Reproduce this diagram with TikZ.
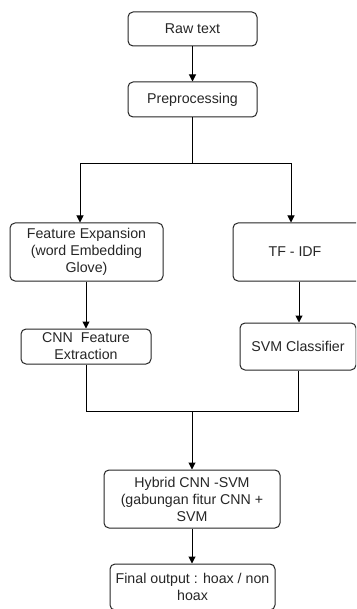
\documentclass[tikz,border=0pt]{standalone}
\usepackage{fontspec}
\setmainfont{Liberation Sans}
\usetikzlibrary{arrows.meta}
\begin{document}
\begin{tikzpicture}[x=1pt,y=-1pt,
  box/.style={draw=black!85, line width=1pt, rounded corners=5pt, align=center,
    inner sep=0pt, font=\fontsize{14.2}{17}\selectfont, text=black!85},
  conn/.style={draw=black, line width=1pt},
  arr/.style={conn, -{Triangle[width=7pt,length=7pt]}}]
\clip (0,0) rectangle (356,609);
\fill[white] (0,0) rectangle (356,609);
\node[box, minimum width=129pt, minimum height=34pt] (raw) at (192.5,29) {Raw text};
\node[box, minimum width=129pt, minimum height=35pt] (pre) at (192.5,99.5) {Preprocessing};
\node[box, minimum width=153pt, minimum height=58pt] (fe) at (86.5,252) {Feature Expansion\\(word Embedding\\Glove)};
\node[box, minimum width=129pt, minimum height=58pt] (tf) at (297.5,252) {};
\node at (295,252) [font=\fontsize{14.2}{17}\selectfont, text=black!85] (tft) {TF - IDF};
\node[box, minimum width=130pt, minimum height=35pt] (cnn) at (86,346.5) {CNN\ \ Feature\\Extraction};
\node[box, minimum width=116pt, minimum height=47pt] (svm) at (298,346.5) {SVM Classifier};
\node[box, minimum width=176pt, minimum height=58pt] (hyb) at (192,499) {Hybrid CNN -SVM\\(gabungan fitur CNN +\\SVM};
\node[box, minimum width=165pt, minimum height=46pt] (fin) at (192.5,587) {Final output : hoax / non\\hoax};
\coordinate (split) at (192.5,164);
\coordinate (join) at (192,411);
\draw[arr] (raw) -- (pre);
\draw[conn] (pre.south) -- (split);
\draw[arr] (split) -| (80,0 |- fe.north);
\draw[arr] (split) -| (291,0 |- tf.north);
\draw[arr] (86,0 |- fe.south) -- (86,0 |- cnn.north);
\draw[arr] (299,0 |- tf.south) -- (299,0 |- svm.north);
\draw[conn] (cnn.south) |- (join);
\draw[conn] (svm.south) |- (join);
\draw[arr] (join) -- (hyb.north);
\draw[arr] (hyb.south) -- (192,0 |- fin.north);
\end{tikzpicture}
\end{document}
